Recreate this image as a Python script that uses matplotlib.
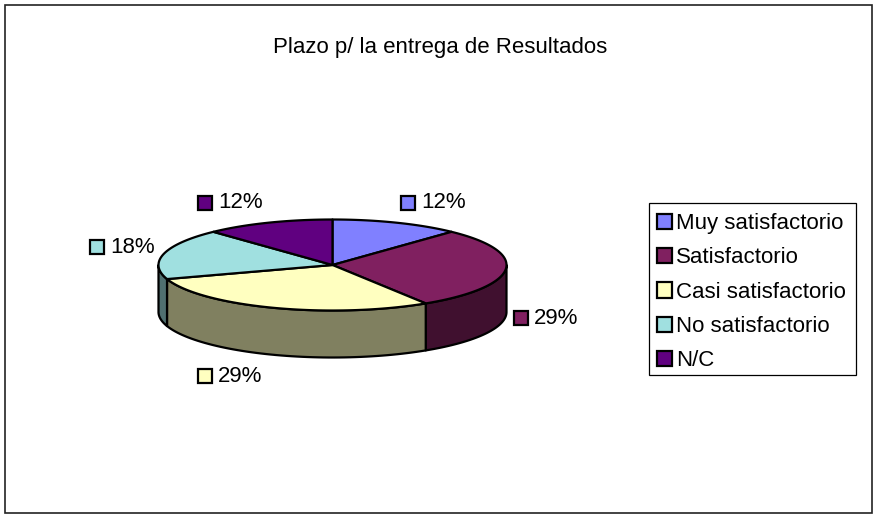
import numpy as np
import matplotlib
matplotlib.use("Agg")
import matplotlib.pyplot as plt
from matplotlib.patches import Polygon, Rectangle, Patch

plt.rcParams['font.family'] = ['Liberation Sans', 'DejaVu Sans']

titulo = "Plazo p/ la entrega de Resultados"
categorias = ["Muy satisfactorio", "Satisfactorio", "Casi satisfactorio", "No satisfactorio", "N/C"]
valores = [12, 29, 29, 18, 12]
colores = ["#8080FF", "#802060", "#FFFFC0", "#A0E0E0", "#600080"]
colores_lado = ["#404080", "#40102F", "#808060", "#507070", "#300040"]

# posicion de cada etiqueta (cuadrito), en pixeles
pos_etiquetas = [(408, 202.5), (521, 318), (205, 376), (97, 247), (205, 202.5)]

cx, cy = 332.5, 265
rx, ry = 174, 45.5
alto = 47


def borde(t):
    # t en grados, sentido horario desde arriba
    r = np.radians(t)
    return cx + rx * np.sin(r), cy - ry * np.cos(r)


fig = plt.figure(figsize=(8.75, 5.15), dpi=100)
ax = fig.add_axes([0, 0, 1, 1])
ax.set_xlim(0, 875)
ax.set_ylim(515, 0)
ax.axis('off')

# marco del grafico
ax.add_patch(Rectangle((5, 5), 867, 508, fill=False, ec='#222222', lw=1.2))

ax.text(440, 47.5, titulo, ha='center', va='center', fontsize=16, color='black')

angulos = np.cumsum([0] + valores) / sum(valores) * 360

# lados de la torta: solo la parte de adelante (90 a 270 grados)
for i in range(len(valores)):
    ini = max(angulos[i], 90)
    fin = min(angulos[i + 1], 270)
    if ini >= fin:
        continue
    t = np.linspace(ini, fin, 60)
    x, y = borde(t)
    pts = np.column_stack([np.r_[x, x[::-1]], np.r_[y, y[::-1] + alto]])
    ax.add_patch(Polygon(pts, closed=True, fc=colores_lado[i], ec='black', lw=1.6, joinstyle='round'))

# tapa de la torta
for i in range(len(valores)):
    t = np.linspace(angulos[i], angulos[i + 1], 80)
    x, y = borde(t)
    pts = np.column_stack([np.r_[cx, x], np.r_[cy, y]])
    ax.add_patch(Polygon(pts, closed=True, fc=colores[i], ec='black', lw=1.6, joinstyle='round'))

# etiquetas de porcentaje
for i in range(len(valores)):
    px, py = pos_etiquetas[i]
    ax.add_patch(Rectangle((px - 7, py - 7), 14, 14, fc=colores[i], ec='black', lw=1.6))
    ax.text(px + 13, py + 0.5, f"{valores[i]}%", ha='left', va='center', fontsize=16, color='black')

# leyenda: el recuadro va aparte para fijar su tamano
ax.add_patch(Rectangle((649, 203), 207, 172, fc='white', ec='black', lw=0.9))
manejadores = [Patch(fc=c, ec='black', lw=1.6) for c in colores]
ley = ax.legend(manejadores, categorias, loc='upper left', bbox_to_anchor=(648.5 / 875, 1 - 205 / 515),
                bbox_transform=ax.transAxes, fontsize=16, frameon=False, borderaxespad=0, borderpad=0.36,
                handlelength=0.68, handleheight=0.68, handletextpad=0.2, labelspacing=0.6)

fig.savefig("out.png", dpi=100)
